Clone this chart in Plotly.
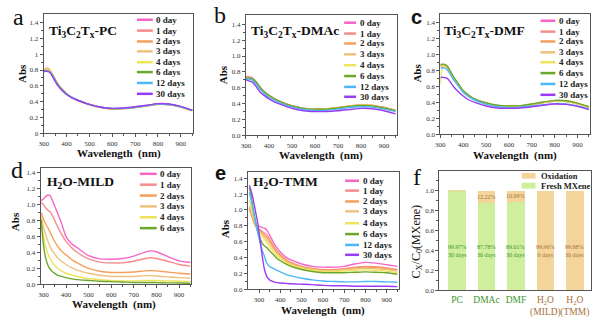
import plotly.graph_objects as go

# ---------------- data ----------------
DAY_LABELS = ["0 day", "1 day", "2 days", "3 days", "4 days", "6 days", "12 days", "30 days"]
DAY_COLORS = ["#F766C6", "#F78C8C", "#F5A05C", "#EEC27E", "#EFE35A", "#6BA72A", "#4CB8F5", "#9A3CF5"]

# wavelength grid for the organic-solvent panels (nm)
WL_ORG = [300, 310, 320, 330, 340, 350, 360, 380, 400, 425, 450, 500, 550, 600, 650, 700, 750, 800, 850, 900, 950]

pc_0 = [0.79, 0.80, 0.80, 0.78, 0.73, 0.68, 0.63, 0.56, 0.50, 0.45, 0.42, 0.365, 0.33, 0.31, 0.315, 0.33, 0.35, 0.37, 0.365, 0.335, 0.29]
pc_1 = [0.79, 0.80, 0.80, 0.78, 0.73, 0.68, 0.63, 0.56, 0.50, 0.45, 0.42, 0.365, 0.33, 0.31, 0.315, 0.33, 0.35, 0.37, 0.365, 0.335, 0.29]
pc_2 = [0.80, 0.82, 0.82, 0.79, 0.74, 0.69, 0.635, 0.56, 0.50, 0.45, 0.415, 0.36, 0.325, 0.305, 0.31, 0.325, 0.345, 0.365, 0.36, 0.33, 0.285]
pc_3 = [0.80, 0.815, 0.81, 0.785, 0.735, 0.685, 0.63, 0.56, 0.50, 0.45, 0.42, 0.36, 0.325, 0.305, 0.31, 0.33, 0.35, 0.37, 0.365, 0.335, 0.29]
pc_4 = [0.79, 0.80, 0.80, 0.78, 0.73, 0.68, 0.63, 0.56, 0.50, 0.45, 0.42, 0.365, 0.33, 0.31, 0.315, 0.33, 0.35, 0.37, 0.365, 0.335, 0.29]
pc_6 = [0.79, 0.795, 0.79, 0.77, 0.725, 0.675, 0.625, 0.555, 0.50, 0.45, 0.42, 0.365, 0.33, 0.31, 0.315, 0.33, 0.35, 0.37, 0.365, 0.335, 0.29]
pc_12 = [0.78, 0.79, 0.785, 0.765, 0.72, 0.67, 0.62, 0.55, 0.495, 0.45, 0.42, 0.365, 0.33, 0.315, 0.315, 0.33, 0.35, 0.37, 0.365, 0.335, 0.29]
pc_30 = [0.78, 0.785, 0.78, 0.76, 0.71, 0.66, 0.61, 0.545, 0.49, 0.445, 0.415, 0.365, 0.33, 0.315, 0.32, 0.335, 0.355, 0.375, 0.37, 0.34, 0.29]

dmac_0 = [0.74, 0.74, 0.735, 0.72, 0.69, 0.65, 0.61, 0.55, 0.50, 0.455, 0.42, 0.37, 0.34, 0.33, 0.33, 0.345, 0.365, 0.38, 0.375, 0.35, 0.315]
dmac_1 = [0.73, 0.735, 0.73, 0.715, 0.685, 0.645, 0.605, 0.545, 0.50, 0.455, 0.42, 0.37, 0.34, 0.33, 0.33, 0.345, 0.365, 0.38, 0.375, 0.35, 0.315]
dmac_2 = [0.72, 0.725, 0.72, 0.71, 0.68, 0.645, 0.605, 0.545, 0.50, 0.455, 0.42, 0.37, 0.34, 0.33, 0.335, 0.35, 0.37, 0.385, 0.38, 0.35, 0.315]
dmac_3 = [0.72, 0.725, 0.72, 0.705, 0.68, 0.64, 0.60, 0.54, 0.495, 0.45, 0.415, 0.365, 0.335, 0.325, 0.33, 0.345, 0.365, 0.38, 0.375, 0.345, 0.31]
dmac_4 = [0.72, 0.72, 0.715, 0.705, 0.675, 0.64, 0.60, 0.54, 0.495, 0.45, 0.415, 0.365, 0.335, 0.325, 0.33, 0.345, 0.365, 0.38, 0.375, 0.345, 0.31]
dmac_6 = [0.72, 0.72, 0.72, 0.71, 0.685, 0.65, 0.61, 0.55, 0.505, 0.46, 0.425, 0.37, 0.34, 0.33, 0.33, 0.345, 0.365, 0.375, 0.37, 0.345, 0.31]
dmac_12 = [0.71, 0.71, 0.705, 0.69, 0.66, 0.62, 0.585, 0.525, 0.48, 0.44, 0.405, 0.355, 0.325, 0.31, 0.315, 0.33, 0.35, 0.36, 0.355, 0.33, 0.30]
dmac_30 = [0.70, 0.69, 0.68, 0.665, 0.63, 0.59, 0.55, 0.50, 0.46, 0.42, 0.39, 0.34, 0.31, 0.30, 0.30, 0.31, 0.325, 0.34, 0.335, 0.31, 0.27]

dmf_0 = [0.86, 0.865, 0.86, 0.84, 0.795, 0.745, 0.695, 0.615, 0.54, 0.48, 0.44, 0.39, 0.36, 0.35, 0.355, 0.375, 0.40, 0.42, 0.415, 0.385, 0.34]
dmf_1 = [0.86, 0.86, 0.855, 0.835, 0.79, 0.74, 0.69, 0.61, 0.535, 0.475, 0.435, 0.385, 0.355, 0.345, 0.35, 0.37, 0.395, 0.415, 0.41, 0.38, 0.335]
dmf_2 = [0.87, 0.875, 0.87, 0.85, 0.80, 0.75, 0.70, 0.62, 0.54, 0.48, 0.44, 0.39, 0.36, 0.35, 0.355, 0.375, 0.40, 0.42, 0.415, 0.385, 0.34]
dmf_3 = [0.865, 0.87, 0.865, 0.845, 0.80, 0.75, 0.70, 0.62, 0.54, 0.48, 0.44, 0.39, 0.36, 0.35, 0.355, 0.375, 0.40, 0.42, 0.415, 0.385, 0.34]
dmf_4 = [0.63, 0.85, 0.86, 0.845, 0.80, 0.75, 0.70, 0.62, 0.54, 0.48, 0.44, 0.39, 0.36, 0.35, 0.355, 0.375, 0.40, 0.42, 0.415, 0.385, 0.34]
dmf_6 = [0.875, 0.88, 0.875, 0.855, 0.81, 0.76, 0.71, 0.63, 0.55, 0.49, 0.445, 0.395, 0.365, 0.355, 0.36, 0.38, 0.405, 0.425, 0.42, 0.39, 0.345]
dmf_12 = [0.83, 0.835, 0.83, 0.81, 0.77, 0.72, 0.675, 0.60, 0.525, 0.47, 0.43, 0.375, 0.345, 0.335, 0.34, 0.355, 0.37, 0.385, 0.38, 0.355, 0.315]
dmf_30 = [0.71, 0.715, 0.71, 0.70, 0.67, 0.63, 0.59, 0.53, 0.48, 0.43, 0.40, 0.355, 0.33, 0.325, 0.33, 0.345, 0.365, 0.38, 0.375, 0.35, 0.31]

# aqueous, mild etching
WL_MILD = [290, 300, 310, 320, 330, 340, 350, 360, 380, 400, 425, 450, 500, 550, 600, 650, 700, 750, 775, 800, 850, 900, 950]
mild_0 = [1.05, 1.07, 1.10, 1.12, 1.11, 1.05, 0.98, 0.91, 0.77, 0.60, 0.51, 0.46, 0.36, 0.32, 0.315, 0.325, 0.355, 0.405, 0.42, 0.41, 0.35, 0.295, 0.275]
mild_1 = [1.03, 1.00, 0.96, 0.93, 0.91, 0.86, 0.80, 0.74, 0.63, 0.54, 0.46, 0.40, 0.32, 0.28, 0.27, 0.27, 0.29, 0.325, 0.335, 0.325, 0.29, 0.25, 0.23]
mild_2 = [0.90, 0.82, 0.76, 0.71, 0.65, 0.59, 0.54, 0.49, 0.42, 0.37, 0.31, 0.27, 0.20, 0.165, 0.15, 0.15, 0.155, 0.17, 0.175, 0.17, 0.155, 0.14, 0.13]
mild_3 = [0.87, 0.72, 0.62, 0.54, 0.47, 0.42, 0.38, 0.34, 0.29, 0.25, 0.21, 0.18, 0.14, 0.115, 0.10, 0.10, 0.10, 0.11, 0.11, 0.105, 0.095, 0.085, 0.08]
mild_4 = [0.85, 0.60, 0.47, 0.38, 0.32, 0.27, 0.24, 0.21, 0.17, 0.14, 0.12, 0.10, 0.075, 0.06, 0.05, 0.045, 0.045, 0.05, 0.05, 0.05, 0.045, 0.04, 0.035]
mild_6 = [0.81, 0.50, 0.33, 0.24, 0.19, 0.16, 0.14, 0.12, 0.10, 0.085, 0.07, 0.06, 0.05, 0.04, 0.035, 0.03, 0.025, 0.025, 0.025, 0.022, 0.02, 0.018, 0.015]

# aqueous, TMM route
WL_TMM = [255, 265, 275, 285, 295, 305, 315, 325, 335, 345, 355, 370, 385, 400, 425, 450, 500, 550, 600, 650, 700, 750, 800, 850, 900, 950]
tmm_0 = [1.03, 0.95, 0.88, 0.82, 0.80, 0.79, 0.78, 0.77, 0.75, 0.71, 0.66, 0.58, 0.52, 0.47, 0.41, 0.37, 0.32, 0.29, 0.28, 0.28, 0.29, 0.32, 0.34, 0.33, 0.31, 0.29]
tmm_1 = [1.02, 0.94, 0.86, 0.80, 0.77, 0.75, 0.73, 0.71, 0.69, 0.66, 0.61, 0.54, 0.48, 0.44, 0.38, 0.34, 0.29, 0.265, 0.25, 0.25, 0.26, 0.28, 0.29, 0.285, 0.27, 0.25]
tmm_2 = [1.01, 0.93, 0.85, 0.79, 0.75, 0.73, 0.71, 0.68, 0.66, 0.63, 0.59, 0.52, 0.47, 0.43, 0.37, 0.33, 0.285, 0.26, 0.245, 0.245, 0.255, 0.27, 0.28, 0.275, 0.26, 0.24]
tmm_3 = [1.05, 0.96, 0.88, 0.80, 0.75, 0.72, 0.69, 0.66, 0.63, 0.60, 0.56, 0.50, 0.45, 0.41, 0.355, 0.32, 0.275, 0.25, 0.235, 0.235, 0.245, 0.26, 0.265, 0.26, 0.25, 0.23]
tmm_4 = [1.12, 1.02, 0.92, 0.83, 0.76, 0.71, 0.67, 0.63, 0.60, 0.56, 0.52, 0.47, 0.42, 0.39, 0.34, 0.305, 0.265, 0.24, 0.225, 0.225, 0.23, 0.24, 0.245, 0.24, 0.23, 0.21]
tmm_6 = [1.28, 1.14, 0.98, 0.84, 0.72, 0.64, 0.58, 0.55, 0.53, 0.50, 0.47, 0.43, 0.39, 0.36, 0.32, 0.29, 0.25, 0.225, 0.21, 0.21, 0.21, 0.215, 0.22, 0.215, 0.21, 0.19]
tmm_12 = [1.22, 1.10, 0.96, 0.82, 0.70, 0.59, 0.49, 0.42, 0.34, 0.30, 0.28, 0.26, 0.24, 0.22, 0.19, 0.17, 0.14, 0.12, 0.105, 0.10, 0.095, 0.095, 0.10, 0.10, 0.095, 0.09]
tmm_30 = [1.31, 1.22, 1.10, 0.96, 0.82, 0.62, 0.42, 0.26, 0.17, 0.13, 0.11, 0.095, 0.085, 0.08, 0.075, 0.07, 0.065, 0.06, 0.05, 0.045, 0.045, 0.04, 0.04, 0.04, 0.04, 0.035]

# oxidation summary (percent)
CATEGORIES = ["PC", "DMAc", "DMF", "H2O (MILD)", "H2O (TMM)"]
FRESH_PCT = [99.97, 87.78, 89.01, 0.04, 0.12]
OXID_PCT = [0.03, 12.22, 10.99, 99.96, 99.88]
STORAGE = ["30 days", "30 days", "30 days", "6 days", "30 days"]

# ---------------- styling ----------------
W, H = 600, 323
SERIF = "Liberation Serif"
AX = "#555555"
TXT = "#222222"
FRESH_COLOR = "#CFEE9E"
OXID_COLOR = "#F3D59C"
GREEN_TXT = "#3C962C"
BROWN_TXT = "#A8703A"


def fx(x):
    return x / W


def fy(y):
    return 1 - y / H


def note(x, y, text, size, family=SERIF, color="#111", xanchor="center", angle=0):
    return dict(x=fx(x), y=fy(y), xref="paper", yref="paper", xanchor=xanchor, yanchor="middle",
                showarrow=False, text=text, textangle=angle, font=dict(family=family, size=size, color=color))


fig = go.Figure()

panels = [
    # (axis id, wavelengths, series, x px span, y px span, x range, y range, y tick format)
    (1, WL_ORG, [pc_0, pc_1, pc_2, pc_3, pc_4, pc_6, pc_12, pc_30], (39, 190), (14, 135), [300, 955], [0, 1.51], None),
    (2, WL_ORG, [dmac_0, dmac_1, dmac_2, dmac_3, dmac_4, dmac_6, dmac_12, dmac_30], (243, 395), (15, 137), [300, 955], [0, 1.52], ".1f"),
    (3, WL_ORG, [dmf_0, dmf_1, dmf_2, dmf_3, dmf_4, dmf_6, dmf_12, dmf_30], (439, 590), (14, 136), [300, 955], [0, 1.51], ".1f"),
    (4, WL_MILD, [mild_0, mild_1, mild_2, mild_3, mild_4, mild_6], (36, 188), (170, 288), [288, 955], [0, 1.46], ".1f"),
    (5, WL_TMM, [tmm_0, tmm_1, tmm_2, tmm_3, tmm_4, tmm_6, tmm_12, tmm_30], (245, 397), (174, 293), [248, 956], [0, 1.48], ".1f"),
]

layout_axes = {}
for n, wl, series, (x0, x1), (y0, y1), xr, yr, yfmt in panels:
    sx = "" if n == 1 else str(n)
    for i, ys in enumerate(series):
        fig.add_trace(go.Scatter(
            x=wl, y=ys, mode="lines", name=DAY_LABELS[i],
            line=dict(color=DAY_COLORS[i], width=1.4, shape="spline", smoothing=0.6),
            xaxis="x" + sx, yaxis="y" + sx, showlegend=False, hoverinfo="skip"))
    layout_axes["xaxis" + sx] = dict(
        domain=[fx(x0), fx(x1)], anchor="y" + sx, range=xr,
        tickvals=[300, 400, 500, 600, 700, 800, 900],
        ticks="outside", ticklen=3, tickcolor=AX, tickwidth=1,
        minor=dict(tickvals=[350, 450, 550, 650, 750, 850, 950], ticks="outside", ticklen=2, tickcolor=AX),
        showline=True, linecolor=AX, linewidth=1, mirror=True,
        showgrid=False, zeroline=False,
        tickfont=dict(family=SERIF, size=7, color="#333"))
    ydict = dict(
        domain=[fy(y1), fy(y0)], anchor="x" + sx, range=yr,
        tickvals=[0, 0.2, 0.4, 0.6, 0.8, 1.0, 1.2, 1.4],
        ticks="outside", ticklen=3, tickcolor=AX, tickwidth=1,
        minor=dict(tickvals=[0.1, 0.3, 0.5, 0.7, 0.9, 1.1, 1.3], ticks="outside", ticklen=2, tickcolor=AX),
        showline=True, linecolor=AX, linewidth=1, mirror=True,
        showgrid=False, zeroline=False,
        tickfont=dict(family=SERIF, size=7, color="#333"))
    if yfmt:
        ydict["tickformat"] = yfmt
    layout_axes["yaxis" + sx] = ydict

# ---------- bar panel ----------
fresh = [v / 100 for v in FRESH_PCT]
oxid = [v / 100 for v in OXID_PCT]
fig.add_trace(go.Bar(x=CATEGORIES, y=fresh, name="Fresh MXene", marker=dict(color=FRESH_COLOR, line=dict(width=0)),
                     width=0.6, xaxis="x6", yaxis="y6", showlegend=False, hoverinfo="skip"))
fig.add_trace(go.Bar(x=CATEGORIES, y=oxid, name="Oxidation", marker=dict(color=OXID_COLOR, line=dict(width=0)),
                     width=0.6, xaxis="x6", yaxis="y6", showlegend=False, hoverinfo="skip"))


def cat_tick(label, color):
    parts = label.split(" ")
    if parts[0] == "H2O":
        return (f'<span style="color:{color}">H<sub>2</sub>O</span><br>'
                f'<span style="color:{color}">{parts[1]}</span>')
    return f'<span style="color:{color}">{label}</span>'


tick_colors = [GREEN_TXT if f > o else BROWN_TXT for f, o in zip(FRESH_PCT, OXID_PCT)]
layout_axes["xaxis6"] = dict(
    domain=[fx(438), fx(591)], anchor="y6", range=[-0.6, 4.55],
    tickvals=CATEGORIES, ticktext=[cat_tick(c, col) for c, col in zip(CATEGORIES, tick_colors)],
    tickangle=0, ticks="", showline=True, linecolor=AX, linewidth=1, mirror=True, showgrid=False,
    tickfont=dict(family=SERIF, size=9.5))
layout_axes["yaxis6"] = dict(
    domain=[fy(294), fy(173)], anchor="x6", range=[0, 1.2],
    tickvals=[0, 0.2, 0.4, 0.6, 0.8, 1.0], tickformat=".1f",
    ticks="outside", ticklen=3, tickcolor=AX,
    minor=dict(tickvals=[0.1, 0.3, 0.5, 0.7, 0.9, 1.1], ticks="outside", ticklen=2, tickcolor=AX),
    showline=True, linecolor=AX, linewidth=1, mirror=True, showgrid=False, zeroline=False,
    tickfont=dict(family=SERIF, size=7, color="#333"))

annotations = []
shapes = []

# percentage labels inside the bars
for c, f, o, d, col in zip(CATEGORIES, FRESH_PCT, OXID_PCT, STORAGE, tick_colors):
    main = f if f > o else o
    annotations.append(dict(x=c, y=0.40, xref="x6", yref="y6", xanchor="center", yanchor="middle",
                            showarrow=False, text=f"{main:.2f}%<br>{d}",
                            font=dict(family=SERIF, size=6, color=col)))
    if 5 < o < 50:
        annotations.append(dict(x=c, y=(f + o / 2) / 100, xref="x6", yref="y6", xanchor="center",
                                yanchor="middle", showarrow=False,
                                text=f"{o:.2f}%", font=dict(family=SERIF, size=6, color=BROWN_TXT)))

# bar legend
for label, color, row in [("Oxidation", OXID_COLOR, 178), ("Fresh MXene", FRESH_COLOR, 188)]:
    shapes.append(dict(type="rect", xref="paper", yref="paper", x0=fx(521), x1=fx(535),
                       y0=fy(row + 3), y1=fy(row - 3), fillcolor=color, line=dict(width=0)))
    annotations.append(note(538, row, f"<b>{label}</b>", 8.5, color=TXT, xanchor="left"))

# spectra legends
legend_pos = [
    (1, 133, 149, [20, 31, 42, 52, 63, 73, 84, 95]),
    (2, 342, 354, [23, 34, 44, 55, 66, 77, 88, 98]),
    (3, 540, 555, [21, 32, 42, 53, 63, 74, 85, 96]),
    (4, 136, 153, [176, 187, 198, 209, 220, 231]),
    (5, 343, 357, [183, 193, 204, 214, 226, 237, 248, 258]),
]
for n, x0, x1, rows in legend_pos:
    for i, row in enumerate(rows):
        shapes.append(dict(type="line", xref="paper", yref="paper", x0=fx(x0), x1=fx(x1), y0=fy(row), y1=fy(row),
                           line=dict(color=DAY_COLORS[i], width=2.5)))
        annotations.append(note(x1 + 1.5, row, f"<b>{DAY_LABELS[i]}</b>", 9, color=TXT, xanchor="left"))

# panel titles
titles = [
    (42, 32, "Ti<sub>3</sub>C<sub>2</sub>T<sub>x</sub>-PC"),
    (246, 32, "Ti<sub>3</sub>C<sub>2</sub>T<sub>x</sub>-DMAc"),
    (441, 32, "Ti<sub>3</sub>C<sub>2</sub>T<sub>x</sub>-DMF"),
    (40, 185, "H<sub>2</sub>O-MILD"),
    (248, 185, "H<sub>2</sub>O-TMM"),
]
for x, y, t in titles:
    annotations.append(note(x, y, f"<b>{t}</b>", 13.5, xanchor="left"))

# axis titles
for x, y in [(115, 155), (319, 157), (514, 157), (110, 308), (321, 314)]:
    annotations.append(note(x, y, "<b>Wavelength&nbsp; (nm)</b>", 11))
for x, y in [(17, 74), (220, 76), (416, 74), (10, 224), (222, 232)]:
    annotations.append(note(x, y, "<b>Abs</b>", 11, angle=-90))
annotations.append(note(415, 245, "C<sub>X</sub>/C<sub>0</sub>(MXene)", 12, angle=-90))

# panel letters
for x, y, t, fam, bold, size in [
    (14, 17, "a", SERIF, False, 24), (217, 15, "b", SERIF, False, 24), (415, 17, "c", "Liberation Sans", True, 20),
    (12, 172, "d", SERIF, False, 24), (217, 175, "e", "Liberation Sans", True, 20), (415, 179, "f", SERIF, False, 24)]:
    annotations.append(note(x, y, f"<b>{t}</b>" if bold else t, size, family=fam))

fig.update_layout(
    width=W, height=H, margin=dict(l=0, r=0, t=0, b=0),
    paper_bgcolor="white", plot_bgcolor="white",
    barmode="stack", bargap=0.4,
    annotations=annotations, shapes=shapes,
    **layout_axes)

fig.write_html("out.html")
